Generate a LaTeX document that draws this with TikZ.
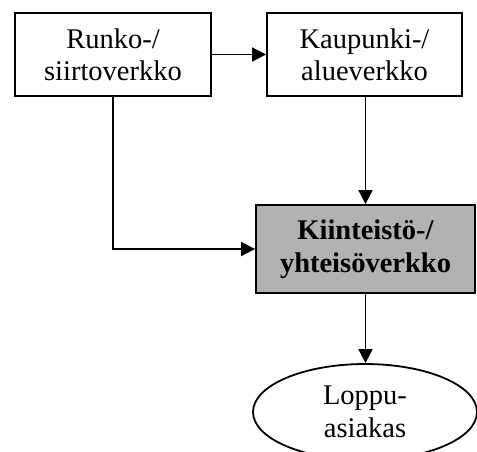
\documentclass[tikz,border=0pt]{standalone}
\usepackage{fontspec}
\setmainfont{Liberation Serif}
\usetikzlibrary{arrows.meta,shapes.geometric}
\definecolor{boxgray}{RGB}{178,178,178}
\newcommand{\labelfont}{\fontsize{28.5}{32.5}\selectfont}
\begin{document}
\begin{tikzpicture}[x=1pt,y=-1pt,
  netbox/.style={draw,line width=1.8pt,rectangle,minimum height=83pt,align=center,
    inner sep=0pt,font=\labelfont},
  endnode/.style={draw,line width=1.8pt,ellipse,minimum width=224pt,minimum height=96pt,
    align=center,inner sep=0pt,font=\labelfont},
  link/.style={line width=1.8pt,-{Triangle[length=14pt,width=14pt]}}]
\useasboundingbox (0,0) rectangle (477,451);
\node[netbox,minimum width=196pt] (runko) at (113,54.5) {Runko-/\\siirtoverkko};
\node[netbox,minimum width=195pt] (kaup) at (364.5,54.5) {Kaupunki-/\\alueverkko};
\node[netbox,minimum width=219pt,minimum height=88pt,fill=boxgray,
  font=\labelfont\bfseries] (kiint) at (365.5,249) {Kiinteistö-/\\yhteisöverkko};
\node[endnode] (loppu) at (365,412) {Loppu-\\asiakas};
\draw[link] (runko.east) -- (kaup.west);
\draw[link] (runko.south) |- (kiint.west);
\draw[link] ([xshift=1pt]kaup.south) -- ([xshift=1pt]kaup.south |- kiint.north);
\draw[link] (kiint.south) -- (kiint.south |- loppu.north);
\end{tikzpicture}
\end{document}
